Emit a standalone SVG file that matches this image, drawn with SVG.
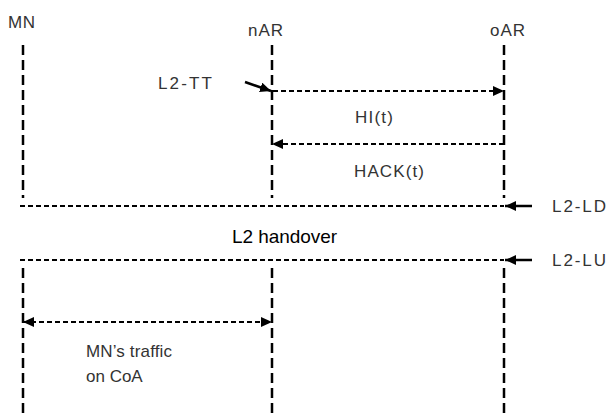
<svg xmlns="http://www.w3.org/2000/svg" width="608" height="417" viewBox="0 0 608 417">
<style>
.lbl{font-family:"Liberation Sans",Arial,sans-serif;font-size:17px;fill:#333}
.big{font-family:"Liberation Sans",Arial,sans-serif;font-size:19px;fill:#000}
.life{stroke:#000;stroke-width:2.5;stroke-dasharray:10 5;fill:none}
.msg{stroke:#000;stroke-width:2;stroke-dasharray:5 3;fill:none}
.sol{stroke:#000;stroke-width:2.5;fill:none}
</style>
<defs>
<marker id="ah" markerUnits="userSpaceOnUse" markerWidth="12" markerHeight="10" refX="11" refY="5" orient="auto">
<path d="M0,0 L11,5 L0,10 Z" fill="#000"/>
</marker>
<marker id="ahs" markerUnits="userSpaceOnUse" markerWidth="12" markerHeight="10" refX="1" refY="5" orient="auto">
<path d="M12,0 L1,5 L12,10 Z" fill="#000"/>
</marker>
</defs>
<g id="node-MN">
<text class="lbl" x="8" y="28" textLength="27">MN</text>
<line class="life" x1="23" y1="45" x2="23" y2="198"/>
<line class="life" x1="23" y1="268" x2="23" y2="417"/>
</g>
<g id="node-nAR">
<text class="lbl" x="248" y="36" textLength="35">nAR</text>
<line class="life" x1="272" y1="45" x2="272" y2="198"/>
<line class="life" x1="272" y1="268" x2="272" y2="417"/>
</g>
<g id="node-oAR">
<text class="lbl" x="490" y="36" textLength="35">oAR</text>
<line class="life" x1="504" y1="45" x2="504" y2="198"/>
<line class="life" x1="504" y1="268" x2="504" y2="417"/>
</g>
<g id="connectors">
<line class="sol" x1="245" y1="82" x2="271" y2="91" marker-end="url(#ah)"/>
<line class="msg" x1="273" y1="91" x2="504" y2="91" marker-end="url(#ah)"/>
<line class="msg" x1="504" y1="144" x2="272" y2="144" marker-end="url(#ah)"/>
<line class="msg" x1="20" y1="206" x2="504" y2="206"/>
<line class="sol" x1="532" y1="206" x2="505" y2="206" marker-end="url(#ah)"/>
<line class="msg" x1="20" y1="260" x2="504" y2="260"/>
<line class="sol" x1="532" y1="260" x2="505" y2="260" marker-end="url(#ah)"/>
<line class="msg" x1="23" y1="322" x2="272" y2="322" marker-start="url(#ahs)" marker-end="url(#ah)"/>
</g>
<g id="labels">
<text class="lbl" x="158" y="89" textLength="54">L2-TT</text>
<text class="lbl" x="355" y="123" textLength="38">HI(t)</text>
<text class="lbl" x="354" y="177" textLength="70">HACK(t)</text>
<text class="lbl" x="552" y="212" textLength="54">L2-LD</text>
<text class="big" x="232" y="243" textLength="105">L2 handover</text>
<text class="lbl" x="552" y="266" textLength="54">L2-LU</text>
<text class="lbl" x="86" y="357" textLength="86">MN’s traffic</text>
<text class="lbl" x="86" y="382">on CoA</text>
</g>
</svg>
